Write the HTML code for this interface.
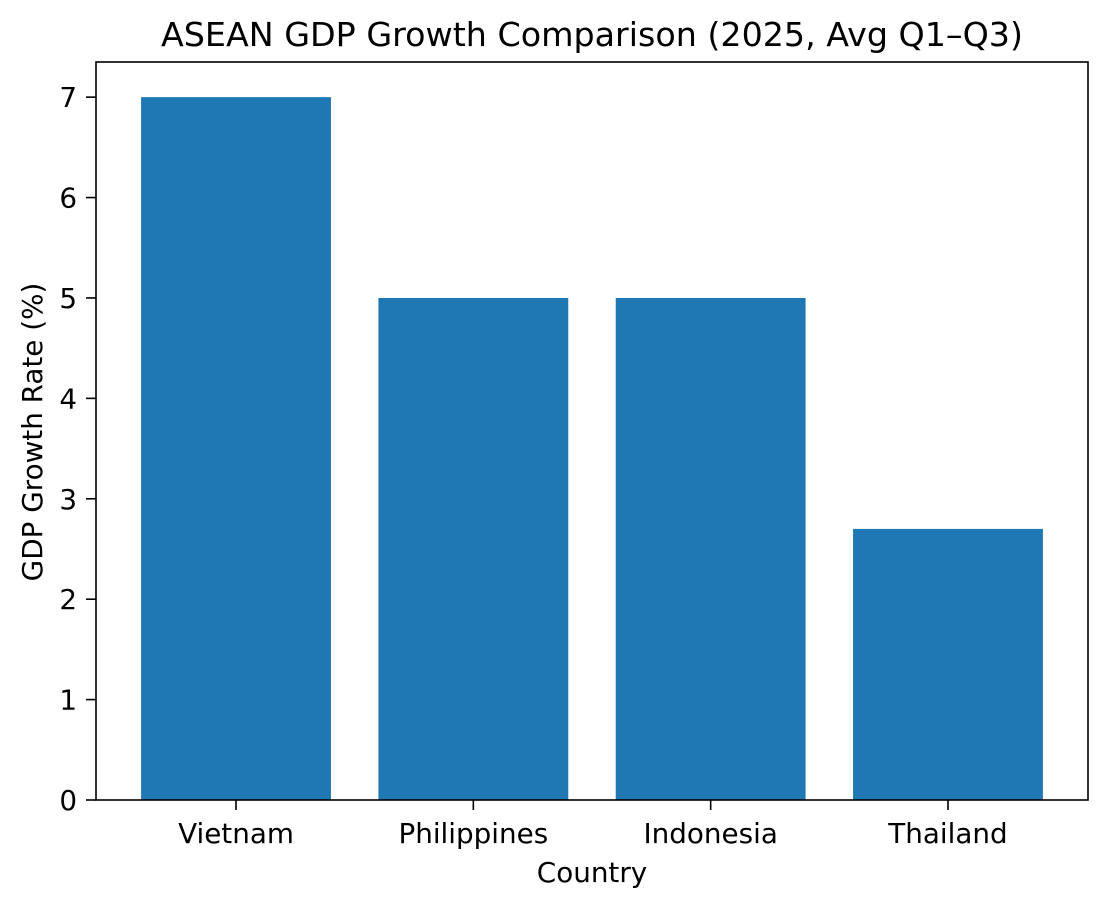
<!DOCTYPE html>
<html><head><meta charset="utf-8"><style>
body{margin:0;background:#fff;}
svg{font-family:"DejaVu Sans","Liberation Sans",sans-serif;}
</style></head><body>
<svg id="chart" width="1108" height="908">
<text x="592" y="46" text-anchor="middle" font-size="33.3" fill="#000">ASEAN GDP Growth Comparison (2025, Avg Q1–Q3)</text>
<g id="bars"></g><g id="axes"></g>
<text x="592" y="882" text-anchor="middle" font-size="27.8">Country</text>
<text transform="translate(42,432) rotate(-90)" text-anchor="middle" font-size="27.8">GDP Growth Rate (%)</text>
</svg>
<script>
const categories=["Vietnam","Philippines","Indonesia","Thailand"];
const values=[7,5,5,2.7];
const yTicks=[0,1,2,3,4,5,6,7];
const L=96,R=1088,T=62,B=800;
const n=categories.length;
const xmin=-0.59,xmax=n-1+0.59;
const ymax=Math.max(...values)*1.05;
const xs=v=>L+(v-xmin)/(xmax-xmin)*(R-L);
const ys=v=>B-v/ymax*(B-T);
const NS="http://www.w3.org/2000/svg";
const bars=document.getElementById('bars'),axes=document.getElementById('axes');
function mk(tag,attrs,parent){const e=document.createElementNS(NS,tag);for(const k in attrs)e.setAttribute(k,attrs[k]);parent.appendChild(e);return e;}
values.forEach((v,i)=>{
 const r=mk('rect',{x:xs(i-0.4),y:ys(v),width:xs(i+0.4)-xs(i-0.4),height:ys(0)-ys(v),fill:'#1f77b4'},bars);
 
 
 const t=mk('line',{x1:xs(i),x2:xs(i),y1:B,y2:B+10,stroke:'#000','stroke-width':1.6},axes);
 
 
 const l=mk('text',{x:xs(i),y:B+43,'text-anchor':'middle','font-size':27.8},axes);
 l.textContent=categories[i];
 
 
});
yTicks.forEach(v=>{
 const t=mk('line',{x1:L-10,x2:L,y1:ys(v),y2:ys(v),stroke:'#000','stroke-width':1.6},axes);
 
 
 const l=mk('text',{x:L-19,y:ys(v)+10,'text-anchor':'end','font-size':27.8},axes);
 l.textContent=v;
 
 
});
const f=mk('rect',{x:L,y:T,width:R-L,height:B-T,fill:'none',stroke:'#000','stroke-width':1.6},axes);


</script>
</body></html>
